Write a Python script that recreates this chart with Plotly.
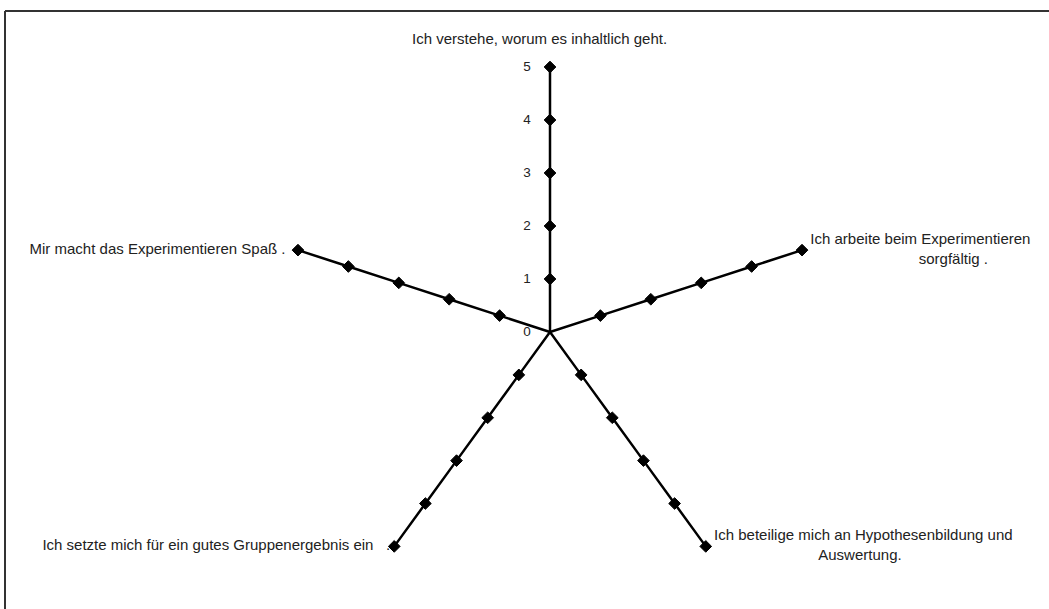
import plotly.graph_objects as go

NB = "\u00a0"

# Categories (clockwise from top) and the scale drawn on every spoke
categories = [
    "Ich verstehe, worum es inhaltlich geht.",
    "Ich arbeite beim Experimentieren",
    "Ich beteilige mich an Hypothesenbildung und",
    "Ich setzte mich für ein gutes Gruppenergebnis ein",
    "Mir macht das Experimentieren Spaß",
]
category_labels = [
    "Ich verstehe, worum es inhaltlich geht." + NB * 5 + "<br>" + NB,
    NB * 2 + "Ich arbeite beim Experimentieren<br>" + NB * 28 + "sorgfältig" + NB + ".",
    NB * 2 + "Ich beteilige mich an Hypothesenbildung und<br>" + NB * 27 + "Auswertung.",
    "Ich setzte mich für ein gutes Gruppenergebnis ein" + NB * 3 + "." + NB,
    "Mir macht das Experimentieren Spaß" + NB + "." + NB * 3,
]
scale_values = [0, 1, 2, 3, 4, 5]
tick_labels = ["0", "1", "2", "3", "4", "5"]

# Label placement (style only)
label_positions = ["top center", "middle right", "middle right", "middle left", "middle left"]

W, H = 1049, 609
cx, cy, R = 550, 332, 265  # centre and outer radius in pixels
FONT = "Liberation Sans, Arial, sans-serif"
TEXT_COLOR = "#222222"

fig = go.Figure()

# Spokes with a diamond marker at each scale step
for cat in categories:
    fig.add_trace(go.Scatterpolar(
        r=scale_values,
        theta=[cat] * len(scale_values),
        mode="lines+markers",
        line=dict(color="black", width=2.5),
        marker=dict(symbol="diamond", size=[0] + [9] * (len(scale_values) - 1),
                    color="black", opacity=1, line=dict(color="black", width=1)),
        hoverinfo="skip",
        showlegend=False,
        cliponaxis=False,
    ))

# Category labels at the end of each spoke
for cat, lab, pos in zip(categories, category_labels, label_positions):
    fig.add_trace(go.Scatterpolar(
        r=[scale_values[-1]],
        theta=[cat],
        mode="text",
        text=[lab],
        textposition=pos,
        textfont=dict(family=FONT, size=15, color=TEXT_COLOR),
        hoverinfo="skip",
        showlegend=False,
        cliponaxis=False,
    ))

fig.update_layout(
    width=W, height=H,
    margin=dict(l=0, r=0, t=0, b=0),
    paper_bgcolor="white",
    plot_bgcolor="white",
    font=dict(family=FONT, size=15, color=TEXT_COLOR),
    polar=dict(
        domain=dict(x=[(cx - R) / W, (cx + R) / W], y=[(H - cy - R) / H, (H - cy + R) / H]),
        bgcolor="white",
        radialaxis=dict(
            range=[0, 5],
            angle=90,
            side="counterclockwise",
            tickvals=scale_values,
            ticktext=tick_labels,
            tickangle=90,
            showgrid=False,
            showline=False,
            ticks="outside",
            ticklen=14,
            tickcolor="rgba(0,0,0,0)",
            tickfont=dict(family=FONT, size=13.5, color=TEXT_COLOR),
        ),
        angularaxis=dict(
            direction="clockwise",
            rotation=90,
            showgrid=False,
            showline=False,
            showticklabels=False,
            ticks="",
        ),
    ),
    shapes=[
        dict(type="line", xref="paper", yref="paper", x0=5 / W, x1=1, y0=1 - 11 / H, y1=1 - 11 / H,
             line=dict(color="#333333", width=2)),
        dict(type="line", xref="paper", yref="paper", x0=5 / W, x1=5 / W, y0=0, y1=1 - 11 / H,
             line=dict(color="#333333", width=2)),
    ],
)

fig.write_html("out.html")
